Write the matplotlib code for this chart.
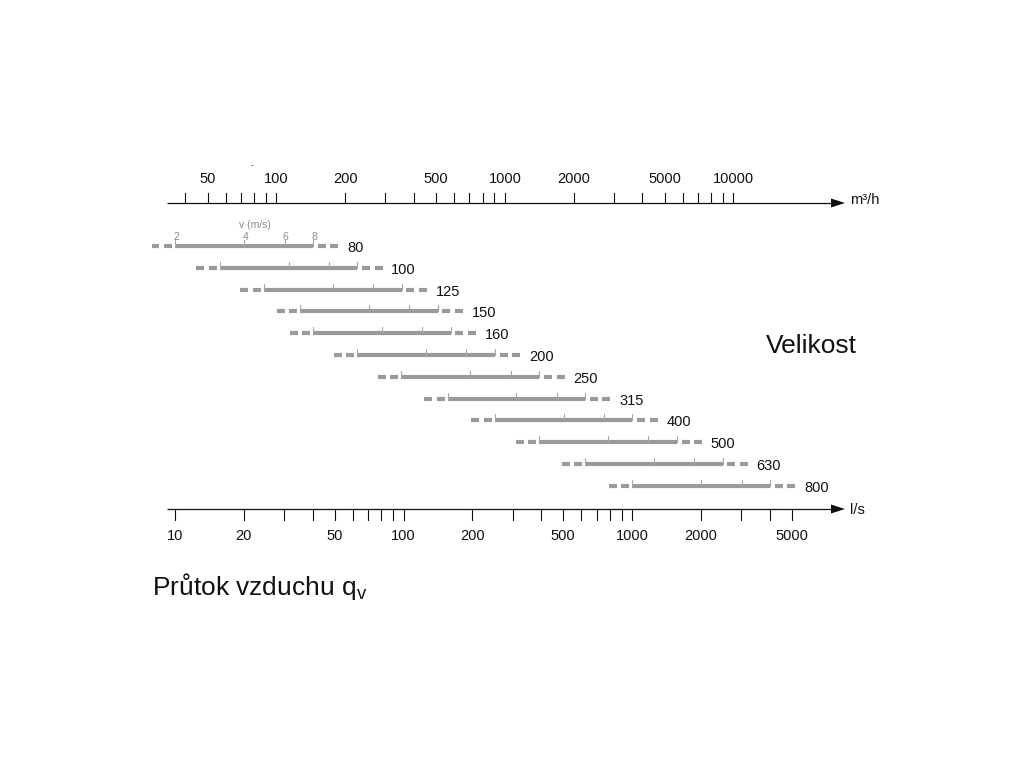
"""
Duct size selection chart: air flow q_v (l/s and m3/h) vs duct size,
bars span v = 2..8 m/s.
"""

import matplotlib
matplotlib.use("Agg")
import matplotlib.pyplot as plt

# --- data ------------------------------------------------------------------
SIZES = [80, 100, 125, 150, 160, 200, 250, 315, 400, 500, 630, 800]
# air flow in l/s at v = 2, 4, 6, 8 m/s for each size
Q_V2 = [10.0, 15.7, 24.5, 35.3, 40.2, 62.8, 98.0, 156, 251, 393, 623, 1005]
Q_V4 = [20.1, 31.4, 49.0, 70.7, 80.4, 126, 196, 312, 503, 785, 1247, 2011]
Q_V6 = [30.2, 47.1, 73.6, 106, 121, 188, 295, 468, 754, 1178, 1870, 3016]
Q_V8 = [40.2, 62.8, 98.2, 141, 161, 251, 393, 623, 1005, 1571, 2494, 4021]
V_LABELS = ["2", "4", "6", "8"]

LS_TICKS = [10, 20, 30, 40, 50, 60, 70, 80, 90, 100,
            200, 300, 400, 500, 600, 700, 800, 900, 1000,
            2000, 3000, 4000, 5000]
LS_LABELS = [10, 20, 50, 100, 200, 500, 1000, 2000, 5000]
M3H_TICKS = [40, 50, 60, 70, 80, 90, 100,
             200, 300, 400, 500, 600, 700, 800, 900, 1000,
             2000, 3000, 4000, 5000, 6000, 7000, 8000, 9000, 10000]
M3H_LABELS = [50, 100, 200, 500, 1000, 2000, 5000, 10000]
M3H_PER_LS = 3.6

# --- layout (pixels) ---------------------------------------------------------
W, H = 1024, 768
DECADE = 228.5      # px per decade
X10 = 175.0         # px position of 10 l/s
TOP_Y = 203
BOT_Y = 509
ROW0, ROW_STEP = 246, 21.8

BAR = "#9a9a9a"
TICK = "#a8a8a8"
INK = "#111111"
FONT = "Liberation Sans"

plt.rcParams["font.family"] = [FONT, "DejaVu Sans"]
plt.rcParams["mathtext.fontset"] = "custom"
plt.rcParams["mathtext.rm"] = FONT
plt.rcParams["mathtext.it"] = FONT


def shift(q, dx):
    """Move a flow value by dx pixels along the log axis."""
    return q * 10 ** (dx / DECADE)


fig = plt.figure(figsize=(W / 100, H / 100), dpi=100)
ax = fig.add_axes([0, 0, 1, 1])
ax.set_xscale("log")
ax.set_xlim(10 ** (1 - X10 / DECADE), 10 ** (1 + (W - X10) / DECADE))
ax.set_ylim(H, 0)
ax.axis("off")


def axis_line(y):
    ax.plot([shift(10, -8.3), shift(10, 657)], [y, y], color=INK, lw=0.9,
            solid_capstyle="butt")
    ax.fill([shift(10, 656), shift(10, 670), shift(10, 656)],
            [y - 4.5, y, y + 4.5], color=INK, lw=0)


# top axis (m3/h)
axis_line(TOP_Y)
for m in M3H_TICKS:
    q = m / M3H_PER_LS
    ax.plot([q, q], [TOP_Y - 10.5, TOP_Y], color=INK, lw=0.8)
for m in M3H_LABELS:
    ax.text(m / M3H_PER_LS, 183.3, str(m), ha="center", va="baseline",
            fontsize=10.5, color=INK)
ax.text(shift(10, 675), 204, "m³/h", ha="left", va="baseline",
        fontsize=10.5, color=INK)
ax.text(shift(10, 77), 167, "-", ha="center", va="baseline",
        fontsize=6, color=INK)

# bottom axis (l/s)
axis_line(BOT_Y)
for q in LS_TICKS:
    ax.plot([q, q], [BOT_Y, BOT_Y + 10.5], color=INK, lw=0.8)
for q in LS_LABELS:
    ax.text(q, 540, str(q), ha="center", va="baseline",
            fontsize=10.5, color=INK)
ax.text(shift(10, 675), 514, "l/s", ha="left", va="baseline",
        fontsize=10.5, color=INK)

# size bars
for i, size in enumerate(SIZES):
    y = ROW0 + i * ROW_STEP
    q2, q8 = Q_V2[i], Q_V8[i]
    ax.plot([q2, q8], [y, y], color=BAR, lw=3.0, solid_capstyle="butt")
    for a, b in [(-23.5, -15.5), (-11, -3)]:
        ax.plot([shift(q2, a), shift(q2, b)], [y, y], color=BAR, lw=3.0,
                solid_capstyle="butt")
    for a, b in [(4.7, 12.7), (17.4, 25.4)]:
        ax.plot([shift(q8, a), shift(q8, b)], [y, y], color=BAR, lw=3.0,
                solid_capstyle="butt")
    for q in (Q_V2[i], Q_V4[i], Q_V6[i], Q_V8[i]):
        ax.plot([q, q], [y - 6, y], color=TICK, lw=0.8)
    ax.text(shift(q8, 34), y + 6, str(size), ha="left", va="baseline",
            fontsize=10.5, color=INK)

# velocity labels on the first bar
for q, lab in zip([Q_V2[0], Q_V4[0], Q_V6[0], Q_V8[0]], V_LABELS):
    ax.text(shift(q, 1), 240, lab, ha="center", va="baseline",
            fontsize=7.5, color="#8a8a8a")
ax.text(shift(Q_V4[0], 11), 228.5, "v (m/s)", ha="center", va="baseline",
        fontsize=7.5, color="#8a8a8a")

# titles
ax.text(shift(10, 591), 353.3, "Velikost", ha="left", va="baseline",
        fontsize=19, color=INK)
ax.text(shift(10, -23.5), 595, r"Průtok vzduchu q$_\mathrm{v}$",
        ha="left", va="baseline", fontsize=19, color=INK)

fig.savefig("out.png", dpi=100, facecolor="white")
